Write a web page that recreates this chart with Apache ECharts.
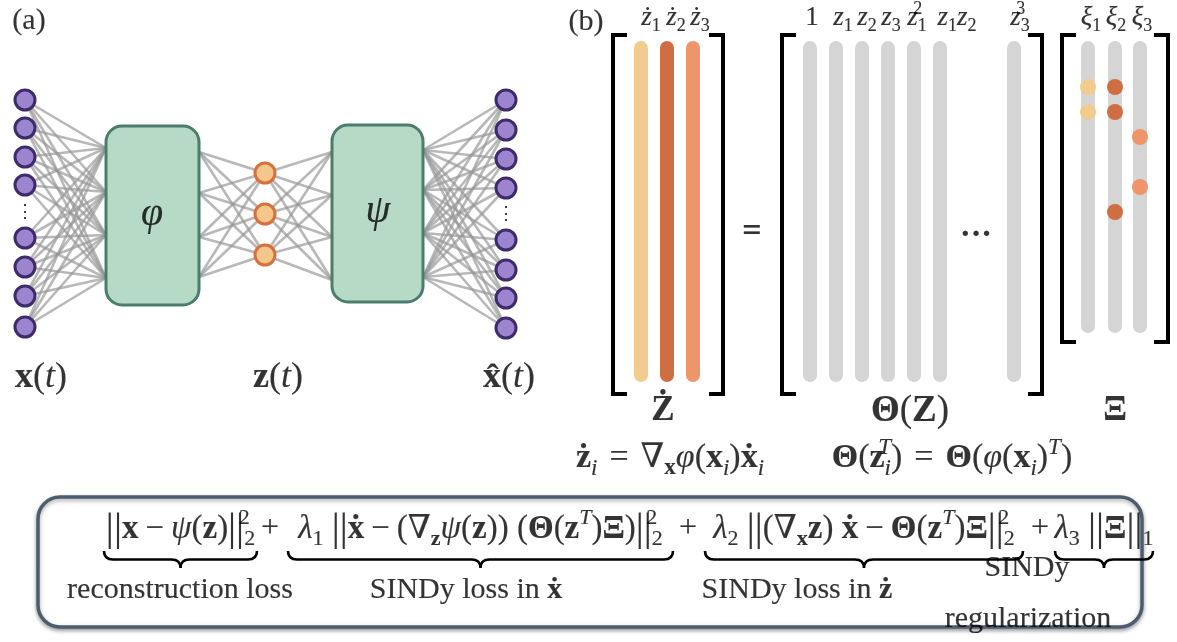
<!DOCTYPE html>
<html><head><meta charset="utf-8">
<script src="https://cdn.jsdelivr.net/npm/echarts@6/dist/echarts.min.js"></script>
<style>html,body{margin:0;padding:0;background:#fff}#c{width:1177px;height:642px}</style>
</head><body><div id="c"></div><script>
const F = '"Liberation Serif","DejaVu Serif",serif';

// ---------------- data ----------------
// autoencoder layers (node rows)
const inputNodeY  = [100, 128, 157, 185, 238, 267, 296, 327];
const latentNodeY = [173, 214, 255];
const outputNodeY = [100, 130, 159, 188, 240, 270, 298, 328];
const phiInY  = [148, 192, 235, 278];
const phiOutY = [152, 193, 237, 277];
const psiInY  = [152, 195, 237, 280];
const psiOutY = [150, 190, 233, 277];
// SINDy matrices
const zdotLabels  = ['{i|ż}{sb|1}', '{i|ż}{sb|2}', '{i|ż}{sb|3}'];
const zdotColors  = ['#f2cb8e', '#cf6e42', '#ef956b'];
const thetaLabels = ['{n|1}', '{i|z}{sb|1}', '{i|z}{sb|2}', '{i|z}{sb|3}', '{i|z}{sp0|2}{sb|1}', '{i|z}{sb|1}{i|z}{sb|2}', '{i|z}{sp0|3}{sb|3}'];
const xiLabels    = ['{i|ξ}{sb|1}', '{i|ξ}{sb|2}', '{i|ξ}{sb|3}'];
const xiNonzeroRows = [[0, 1], [0, 1, 5], [2, 4]];   // sparse coefficients per column
// loss terms
const lossTerms = [
  '{nb|||}{b|x}{op|−}{i|ψ}{n|(}{b|z}{n|)}{nb|||}{sp0|2}{sb|2}',
  '{i|λ}{sb|1}{n| }{nb|||}{b|ẋ}{op|−}{n|(∇}{sB|z}{i|ψ}{n|(}{b|z}{n|)) (}{b|Θ}{n|(}{b|z}{spi|T}{n|)}{b|Ξ}{n|)}{nb|||}{sp0|2}{sb|2}',
  '{i|λ}{sb|2}{n| }{nb|||}{n|(∇}{sB|x}{b|z}{n|) }{b|ẋ}{op|−}{b|Θ}{n|(}{b|z}{spi|T}{n|)}{b|Ξ}{nb|||}{sp0|2}{sb|2}',
  '{i|λ}{sb|3}{n| }{nb|||}{b|Ξ}{nb|||}{sb|1}'
];
const lossLabels = ['{n|reconstruction loss}', '{n|SINDy loss in }{b|ẋ}', '{n|SINDy loss in }{b|ż}', '{n|SINDy}', '{n|regularization}'];

// ---------------- layout ----------------
const L = {
  inX: 25, latX: 265, outX: 506,
  phiBox: [106, 126, 199, 305], psiBox: [332, 125, 423, 302],
  zdotX: [641, 667, 693], thetaX: [810, 836, 862, 888, 914, 940, 1014], xiX: [1088, 1115, 1140],
  zdotHeadX: [651, 676, 700], thetaHeadX: [812, 843, 867, 891, 917, 957, 1020], xiHeadX: [1091, 1116, 1142],
  colTop: 41, colBot: 382, xiBot: 333, headY: 18,
  brackets: [[613, 723, 35, 394], [782, 1042, 35, 394], [1062, 1168, 35, 342]],
  xiRow0: 87, xiStep: 25,
  lossBox: [38, 497, 1142, 627],
  braces: [[104, 257], [288, 673], [705, 1023], [1055, 1153]], braceTop: 551, braceDepth: 17,
  termY: 529, plusX: [270, 688, 1040],
  lossLabelPos: [[180, 590], [466, 590], [797, 590], [1027, 568], [1028, 619]]
};

function R(S) {
  const s = Math.round(S * 0.68), lh = Math.round(S * 1.3);
  const ink = {fontFamily: F, color: '#000', textBorderColor: '#000', textBorderWidth: 0.15};
  const ext = (o, e) => Object.assign({}, o, e);
  const base = ext(ink, {fontSize: S, lineHeight: lh});
  const sub = ext(ink, {fontSize: s, lineHeight: s, verticalAlign: 'bottom'});
  const sup = ext(ink, {fontSize: s, lineHeight: s, verticalAlign: 'top'});
  return {
    n: base, i: ext(base, {fontStyle: 'italic'}), b: ext(base, {fontWeight: 'bold'}),
    nb: ext(base, {fontSize: Math.round(S * 1.22)}),
    op: ext(base, {padding: [0, Math.round(S * 0.22)]}),
    rel: ext(base, {padding: [0, Math.round(S * 0.36)]}),
    sb: sub, si: ext(sub, {fontStyle: 'italic'}), sB: ext(sub, {fontWeight: 'bold'}),
    sp: sup, spi: ext(sup, {fontStyle: 'italic'}), sp0: ext(sup, {width: 0}), spi0: ext(sup, {fontStyle: 'italic', width: 0})
  };
}
const texts = [];
function T(x, y, str, size, align) {
  texts.push({value: [x, y], t: str, label: {align: align || 'center', rich: R(size)}});
}

// ---- text items ----
T(29, 21, '{n|(a)}', 30);
T(586, 22, '{n|(b)}', 30);
T(41, 378, '{b|x}{n|(}{i|t}{n|)}', 36);
T(278, 378, '{b|z}{n|(}{i|t}{n|)}', 36);
T(509, 378, '{b|x̂}{n|(}{i|t}{n|)}', 36);
T(152, 214, '{i|φ}', 40);
T(378, 211, '{i|ψ}', 40);
T(L.inX, 212, '{n|⋮}', 18);
T(L.outX, 214, '{n|⋮}', 18);
zdotLabels.forEach((s, k) => T(L.zdotHeadX[k], L.headY, s, 27));
thetaLabels.forEach((s, k) => T(L.thetaHeadX[k], L.headY, s, 27));
xiLabels.forEach((s, k) => T(L.xiHeadX[k], L.headY, s, 27));
T(752, 232, '{b|=}', 34);
T(976, 236, '{b|···}', 32);
T(663, 411, '{b|Ż}', 35);
T(910, 411, '{b|Θ}{n|(}{b|Z}{n|)}', 37);
T(1115, 411, '{b|Ξ}', 35);
T(670, 458, '{b|ż}{si|i}{rel|=}{n|∇}{sB|x}{i|φ}{n|(}{b|x}{si|i}{n|)}{b|ẋ}{si|i}', 34);
T(952, 458, '{b|Θ}{n|(}{b|z}{spi0|T}{si|i}{n|)}{rel|=}{b|Θ}{n|(}{i|φ}{n|(}{b|x}{si|i}{n|)}{spi|T}{n|)}', 34);
lossTerms.forEach((s, k) => T((L.braces[k][0] + L.braces[k][1]) / 2, L.termY, s, 33));
L.plusX.forEach(x => T(x, L.termY, '{n|+}', 32));
lossLabels.forEach((s, k) => T(L.lossLabelPos[k][0], L.lossLabelPos[k][1], s, 30));

// ---- edges ----
const edges = [];
inputNodeY.forEach(y => phiInY.forEach(p => edges.push({coords: [[L.inX, y], [L.phiBox[0], p]]})));
phiOutY.forEach(p => latentNodeY.forEach(y => edges.push({coords: [[L.phiBox[2], p], [L.latX, y]]})));
latentNodeY.forEach(y => psiInY.forEach(p => edges.push({coords: [[L.latX, y], [L.psiBox[0], p]]})));
psiOutY.forEach(p => outputNodeY.forEach(y => edges.push({coords: [[L.psiBox[2], p], [L.outX, y]]})));

// ---- columns ----
const columns = [];
L.zdotX.forEach((x, k) => columns.push([x, L.colTop, L.colBot, zdotColors[k]]));
L.thetaX.forEach(x => columns.push([x, L.colTop, L.colBot, '#d5d5d5']));
L.xiX.forEach(x => columns.push([x, L.colTop, L.xiBot, '#d5d5d5']));

const xiDots = [];
xiNonzeroRows.forEach((rows, c) => rows.forEach(r => xiDots.push({value: [L.xiX[c], L.xiRow0 + r * L.xiStep], itemStyle: {color: zdotColors[c]}})));

const chart = echarts.init(document.getElementById('c'), null, {renderer: 'canvas'});
chart.setOption({
  animation: false,
  backgroundColor: '#fff',
  grid: {left: 0, right: 0, top: 0, bottom: 0},
  xAxis: {type: 'value', min: 0, max: 1177, show: false},
  yAxis: {type: 'value', min: 0, max: 642, inverse: true, show: false},
  series: [
    { // loss box
      type: 'custom', z: 1, silent: true,
      data: [L.lossBox],
      renderItem: (p, api) => {
        const a = api.coord([api.value(0), api.value(1)]), b = api.coord([api.value(2), api.value(3)]);
        return {type: 'rect', shape: {x: a[0], y: a[1], width: b[0] - a[0], height: b[1] - a[1], r: 22},
          style: {fill: '#fff', stroke: '#4d5d70', lineWidth: 3.5, shadowBlur: 4, shadowOffsetY: 2, shadowColor: 'rgba(0,0,0,0.35)'}};
      }
    },
    { // edges
      type: 'lines', coordinateSystem: 'cartesian2d', z: 2, silent: true,
      lineStyle: {color: '#969696', width: 2.6, opacity: 0.68},
      data: edges
    },
    { // encoder/decoder boxes
      type: 'custom', z: 3, silent: true,
      data: [L.phiBox, L.psiBox],
      renderItem: (p, api) => {
        const a = api.coord([api.value(0), api.value(1)]), b = api.coord([api.value(2), api.value(3)]);
        return {type: 'rect', shape: {x: a[0], y: a[1], width: b[0] - a[0], height: b[1] - a[1], r: 16},
          style: {fill: '#b6dac5', stroke: '#4b7d6c', lineWidth: 3}};
      }
    },
    { // input/output nodes
      type: 'scatter', z: 4, silent: true, symbolSize: 20,
      itemStyle: {color: '#9d84cf', borderColor: '#3d2b6b', borderWidth: 3, opacity: 1},
      data: inputNodeY.map(y => [L.inX, y]).concat(outputNodeY.map(y => [L.outX, y]))
    },
    { // latent nodes
      type: 'scatter', z: 4, silent: true, symbolSize: 20,
      itemStyle: {color: '#f3c68c', borderColor: '#d6703c', borderWidth: 3, opacity: 1},
      data: latentNodeY.map(y => [L.latX, y])
    },
    { // matrix columns
      type: 'custom', z: 3, silent: true,
      data: columns,
      renderItem: (p, api) => {
        const a = api.coord([api.value(0), api.value(1)]), b = api.coord([api.value(0), api.value(2)]);
        const w = 14;
        return {type: 'rect', shape: {x: a[0] - w / 2, y: a[1], width: w, height: b[1] - a[1], r: w / 2},
          style: {fill: columns[p.dataIndex][3]}};
      }
    },
    { // brackets
      type: 'custom', z: 3, silent: true,
      data: L.brackets,
      renderItem: (p, api) => {
        const a = api.coord([api.value(0), api.value(2)]), b = api.coord([api.value(1), api.value(3)]);
        const s = 14, st = {stroke: '#000', lineWidth: 4, fill: null, lineJoin: 'miter'};
        return {type: 'group', children: [
          {type: 'polyline', shape: {points: [[a[0] + s, a[1]], [a[0], a[1]], [a[0], b[1]], [a[0] + s, b[1]]]}, style: st},
          {type: 'polyline', shape: {points: [[b[0] - s, a[1]], [b[0], a[1]], [b[0], b[1]], [b[0] - s, b[1]]]}, style: st}
        ]};
      }
    },
    { // Xi sparse coefficients
      type: 'scatter', z: 4, silent: true, symbolSize: 16,
      itemStyle: {opacity: 1},
      data: xiDots
    },
    { // underbraces
      type: 'custom', z: 5, silent: true,
      data: L.braces.map(b => [b[0], b[1], L.braceTop, L.braceDepth]),
      renderItem: (p, api) => {
        const a = api.coord([api.value(0), api.value(2)]), b = api.coord([api.value(1), api.value(2) + api.value(3)]);
        const x1 = a[0], x2 = b[0], y0 = a[1], y2 = b[1], ym = (y0 + y2) / 2, m = (x1 + x2) / 2, r = 9;
        const d = `M${x1},${y0} Q${x1},${ym} ${x1 + r},${ym} L${m - r},${ym} Q${m},${ym} ${m},${y2} Q${m},${ym} ${m + r},${ym} L${x2 - r},${ym} Q${x2},${ym} ${x2},${y0}`;
        return {type: 'path', shape: {pathData: d}, style: {stroke: '#000', lineWidth: 2.6, fill: null}};
      }
    },
    { // texts
      type: 'scatter', z: 10, silent: true, symbolSize: 1,
      itemStyle: {color: 'rgba(0,0,0,0)'},
      label: {show: true, position: 'inside', formatter: p => p.data.t, color: '#000'},
      data: texts
    }
  ]
});
</script></body></html>
